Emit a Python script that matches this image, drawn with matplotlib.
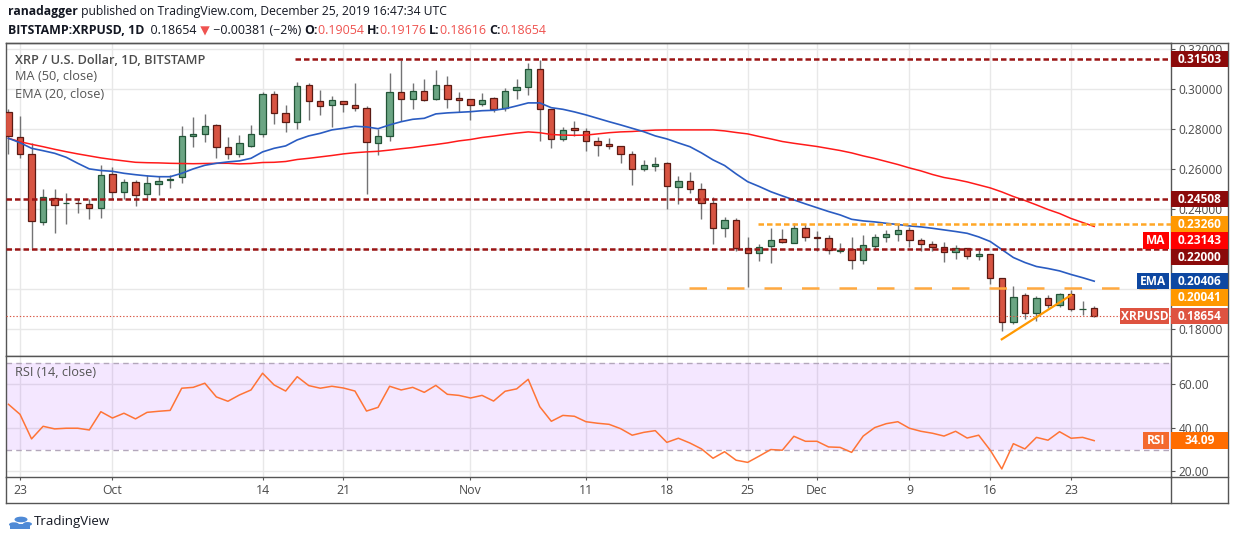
import matplotlib
matplotlib.use('Agg')
import matplotlib.pyplot as plt
from matplotlib.patches import Rectangle, Circle
from matplotlib.lines import Line2D
import numpy as np
import pandas as pd

FONT = ['Open Sans', 'DejaVu Sans']
plt.rcParams['font.family'] = FONT

# ---------------- data ----------------
dates = pd.date_range('2019-09-22', '2019-12-25', freq='D')

opens = [0.2888, 0.2760, 0.2675, 0.2335, 0.2458, 0.2430, 0.2433, 0.2427, 0.2405, 0.2575,
         0.2485, 0.2535, 0.2478, 0.2525, 0.2545, 0.2560, 0.2765, 0.2775, 0.2820, 0.2710,
         0.2675, 0.2718, 0.2775, 0.2975, 0.2880, 0.2835, 0.3020, 0.2940, 0.2920, 0.2940,
         0.2920, 0.2905, 0.2730, 0.2765, 0.2985, 0.2950, 0.2990, 0.2950, 0.3020, 0.2955,
         0.2950, 0.2925, 0.2955, 0.2905, 0.2995, 0.3010, 0.3100, 0.2900, 0.2750, 0.2805,
         0.2790, 0.2740, 0.2725, 0.2715, 0.2675, 0.2600, 0.2615, 0.2630, 0.2510, 0.2540,
         0.2500, 0.2430, 0.2305, 0.2345, 0.2205, 0.2180, 0.2215, 0.2250, 0.2230, 0.2305,
         0.2260, 0.2255, 0.2193, 0.2200, 0.2145, 0.2215, 0.2260, 0.2275, 0.2295, 0.2245,
         0.2225, 0.2210, 0.2185, 0.2205, 0.2165, 0.2175, 0.2055, 0.1835, 0.1970, 0.1880,
         0.1955, 0.1920, 0.1975, 0.1900, 0.19054]
highs = [0.2900, 0.2867, 0.2730, 0.2500, 0.2500, 0.2480, 0.2452, 0.2452, 0.2620, 0.2610,
         0.2550, 0.2545, 0.2570, 0.2565, 0.2570, 0.2815, 0.2860, 0.2875, 0.2825, 0.2760,
         0.2770, 0.2820, 0.2985, 0.2990, 0.2920, 0.3035, 0.3030, 0.2995, 0.2965, 0.2942,
         0.3030, 0.2915, 0.2800, 0.3080, 0.3145, 0.3030, 0.3050, 0.3095, 0.3065, 0.2985,
         0.2952, 0.2980, 0.2960, 0.3005, 0.3050, 0.3130, 0.3145, 0.2902, 0.2810, 0.2840,
         0.2805, 0.2760, 0.2755, 0.2717, 0.2690, 0.2645, 0.2660, 0.2635, 0.2565, 0.2585,
         0.2530, 0.2460, 0.2360, 0.2355, 0.2260, 0.2225, 0.2305, 0.2300, 0.2330, 0.2325,
         0.2290, 0.2270, 0.2230, 0.2260, 0.2270, 0.2275, 0.2295, 0.2325, 0.2313, 0.2255,
         0.2240, 0.2235, 0.2220, 0.2207, 0.2195, 0.2177, 0.2057, 0.2015, 0.1980, 0.1965,
         0.1970, 0.1980, 0.1995, 0.1940, 0.19176]
lows = [0.2675, 0.2658, 0.2205, 0.2320, 0.2283, 0.2328, 0.2383, 0.2350, 0.2355, 0.2450,
        0.2450, 0.2418, 0.2447, 0.2470, 0.2508, 0.2533, 0.2710, 0.2735, 0.2655, 0.2650,
        0.2660, 0.2713, 0.2760, 0.2825, 0.2785, 0.2800, 0.2845, 0.2870, 0.2810, 0.2885,
        0.2890, 0.2475, 0.2670, 0.2740, 0.2840, 0.2900, 0.2940, 0.2945, 0.2905, 0.2885,
        0.2845, 0.2915, 0.2885, 0.2890, 0.2950, 0.2970, 0.2740, 0.2705, 0.2740, 0.2765,
        0.2690, 0.2665, 0.2700, 0.2630, 0.2520, 0.2590, 0.2590, 0.2400, 0.2425, 0.2480,
        0.2350, 0.2225, 0.2260, 0.2190, 0.2010, 0.2140, 0.2130, 0.2230, 0.2230, 0.2240,
        0.2190, 0.2175, 0.2180, 0.2100, 0.2125, 0.2195, 0.2235, 0.2240, 0.2213, 0.2190,
        0.2190, 0.2135, 0.2150, 0.2150, 0.2145, 0.2025, 0.1790, 0.1825, 0.1850, 0.1840,
        0.1905, 0.1910, 0.1890, 0.1870, 0.18616]
closes = [0.2766, 0.2675, 0.2340, 0.2463, 0.2420, 0.2433, 0.2430, 0.2405, 0.2570, 0.2487,
          0.2535, 0.2470, 0.2530, 0.2540, 0.2552, 0.2765, 0.2775, 0.2815, 0.2710, 0.2675,
          0.2730, 0.2775, 0.2975, 0.2880, 0.2835, 0.3015, 0.2940, 0.2915, 0.2945, 0.2925,
          0.2905, 0.2735, 0.2765, 0.2985, 0.2950, 0.2990, 0.2945, 0.3020, 0.2950, 0.2945,
          0.2920, 0.2945, 0.2900, 0.2990, 0.3010, 0.3100, 0.2900, 0.2750, 0.2795, 0.2795,
          0.2740, 0.2720, 0.2715, 0.2675, 0.2600, 0.2620, 0.2625, 0.2515, 0.2540, 0.2500,
          0.2430, 0.2305, 0.2345, 0.2205, 0.2180, 0.2210, 0.2245, 0.2235, 0.2305, 0.2260,
          0.2255, 0.2195, 0.2195, 0.2145, 0.2220, 0.2260, 0.2275, 0.2295, 0.2245, 0.2225,
          0.2210, 0.2185, 0.2205, 0.2165, 0.2175, 0.2055, 0.1835, 0.1960, 0.1880, 0.1955,
          0.1920, 0.1975, 0.1900, 0.19035, 0.18654]

ma50 = [0.2755, 0.2738, 0.2725, 0.2713, 0.2700, 0.2688, 0.2677, 0.2667, 0.2657, 0.2649,
        0.2642, 0.2635, 0.2633, 0.2632, 0.2630, 0.2629, 0.2628, 0.2629, 0.2630, 0.2630,
        0.2627, 0.2629, 0.2634, 0.2635, 0.2639, 0.2649, 0.2655, 0.2662, 0.2669, 0.2677,
        0.2683, 0.2687, 0.2690, 0.2696, 0.2703, 0.2709, 0.2717, 0.2724, 0.2732, 0.2742,
        0.2749, 0.2759, 0.2766, 0.2774, 0.2781, 0.2787, 0.2783, 0.2774, 0.2771, 0.2770,
        0.2771, 0.2777, 0.2783, 0.2787, 0.2789, 0.2793, 0.2796, 0.2797, 0.2797, 0.2797,
        0.2797, 0.2797, 0.2792, 0.2784, 0.2777, 0.2764, 0.2752, 0.2739, 0.2730, 0.2722,
        0.2714, 0.2704, 0.2694, 0.2682, 0.2667, 0.2654, 0.2639, 0.2624, 0.2607, 0.2592,
        0.2574, 0.2559, 0.2549, 0.2537, 0.2522, 0.2507, 0.2487, 0.2464, 0.2444, 0.2422,
        0.2399, 0.2379, 0.2354, 0.2334, 0.23143]
ema20 = [0.2755, 0.2733, 0.2705, 0.2693, 0.2680, 0.2660, 0.2630, 0.2602, 0.2594, 0.2590,
         0.2580, 0.2573, 0.2567, 0.2563, 0.2563, 0.2580, 0.2602, 0.2620, 0.2630, 0.2637,
         0.2642, 0.2655, 0.2687, 0.2705, 0.2717, 0.2747, 0.2767, 0.2780, 0.2797, 0.2805,
         0.2815, 0.2812, 0.2803, 0.2822, 0.2838, 0.2850, 0.2855, 0.2877, 0.2882, 0.2885,
         0.2888, 0.2893, 0.2895, 0.2903, 0.2917, 0.2932, 0.2932, 0.2908, 0.2900, 0.2887,
         0.2872, 0.2855, 0.2838, 0.2822, 0.2805, 0.2788, 0.2767, 0.2752, 0.2732, 0.2713,
         0.2682, 0.2647, 0.2619, 0.2577, 0.2538, 0.2514, 0.2488, 0.2467, 0.2447, 0.2427,
         0.2408, 0.2389, 0.2372, 0.2350, 0.2342, 0.2337, 0.2330, 0.2324, 0.2317, 0.2312,
         0.2305, 0.2297, 0.2289, 0.2280, 0.2262, 0.2239, 0.2199, 0.2159, 0.2134, 0.2114,
         0.2104, 0.2092, 0.2074, 0.2058, 0.20406]
rsi14 = [50.8, 46.2, 34.9, 40.7, 39.5, 39.8, 39.8, 39.0, 47.4, 44.5,
         46.7, 44.1, 47.1, 47.6, 48.0, 58.2, 58.6, 60.5, 54.2, 52.2,
         55.1, 57.4, 65.1, 59.7, 56.9, 63.5, 59.4, 58.2, 59.1, 58.3,
         56.9, 47.7, 49.4, 59.1, 57.4, 58.6, 56.3, 59.5, 55.4, 54.9,
         53.7, 54.9, 52.3, 56.8, 57.9, 62.3, 49.7, 43.0, 45.7, 45.3,
         42.8, 42.1, 41.6, 39.6, 36.6, 37.9, 38.7, 33.3, 35.2, 33.0,
         30.3, 26.0, 29.0, 25.1, 24.1, 27.0, 30.0, 29.7, 36.1, 33.8,
         33.8, 31.2, 31.0, 28.7, 36.2, 40.1, 41.9, 42.8, 39.8, 38.4,
         37.5, 36.2, 38.4, 35.3, 36.6, 29.7, 21.1, 32.7, 30.3, 35.6,
         34.3, 38.2, 35.2, 35.6, 34.09]

tick_dates = ['2019-09-23', '2019-10-01', '2019-10-14', '2019-10-21', '2019-11-01', '2019-11-11',
              '2019-11-18', '2019-11-25', '2019-12-01', '2019-12-09', '2019-12-16', '2019-12-23']
tick_labels = ['23', 'Oct', '14', '21', 'Nov', '11', '18', '25', 'Dec', '9', '16', '23']
price_ticks = [0.18, 0.20, 0.22, 0.24, 0.26, 0.28, 0.30, 0.32]
hidden_price_labels = [0.20, 0.22]   # covered by the price tags in the reference
rsi_ticks = [20, 40, 60]

# user drawings
red_levels = [0.31503, 0.24508, 0.22000]
red_level_start = ['2019-10-16 20:00', None, None]
orange_dotted_level = 0.23260
orange_dotted_start = '2019-11-25 22:00'
orange_dashed_level = 0.20041
orange_dashed_start = '2019-11-19 22:00'
trend_dates = ['2019-12-17', '2019-12-23']
trend_prices = [0.1750, 0.1971]
last_price = 0.18654

# ---------------- figure ----------------
W, H = 1234, 540
fig = plt.figure(figsize=(W / 100, H / 100), dpi=100)
fig.patch.set_facecolor('white')

LEFT, RIGHT, TOP, MID, BOT, AXB, OUTR = 6.3, 1171, 43, 355.5, 476.7, 502.7, 1228


def fbox(x0, y0, x1, y1):
    return [x0 / W, 1 - y1 / H, (x1 - x0) / W, (y1 - y0) / H]


ax = fig.add_axes(fbox(LEFT, TOP, RIGHT, MID))
ax2 = fig.add_axes(fbox(LEFT, MID, RIGHT, BOT), sharex=ax)

x = np.arange(len(dates))
t0 = dates[0]


def dpos(s):
    return (pd.Timestamp(s) - t0) / pd.Timedelta(days=1)


xmin, xmax = -0.186, 100.65
ax.set_xlim(xmin, xmax)
ax.set_ylim(0.16690, 0.32315)
ax2.set_ylim(17.52, 73.24)

GRID = '#e8e8e8'
tick_pos = [dpos(s) for s in tick_dates]
for a in (ax, ax2):
    a.set_facecolor('white')
    for tp in tick_pos:
        a.axvline(tp, color=GRID, lw=1, zorder=0)
    for s in a.spines.values():
        s.set_color('#555555')
        s.set_linewidth(1)
for p in price_ticks:
    ax.axhline(p, color=GRID, lw=1, zorder=0)
for r in rsi_ticks:
    ax2.axhline(r, color=GRID, lw=1, zorder=0)

# candles
UP_FILL, UP_EDGE = '#6ba583', '#225437'
DN_FILL, DN_EDGE = '#d75442', '#5b1a13'
o = np.array(opens); h = np.array(highs); l = np.array(lows); c = np.array(closes)
up = c >= o
ax.vlines(x, l, h, color='#737375', lw=1, zorder=2)
ax.bar(x[up], (c - o)[up], bottom=o[up], width=0.55, color=UP_FILL, edgecolor=UP_EDGE,
       linewidth=0.9, zorder=3)
ax.bar(x[~up], (o - c)[~up], bottom=c[~up], width=0.55, color=DN_FILL, edgecolor=DN_EDGE,
       linewidth=0.9, zorder=3)

ax.plot(x, ma50, color='#ff1a1a', lw=1.1, zorder=4)
ax.plot(x, ema20, color='#2a5cc2', lw=1.2, zorder=4)

# drawings
RED_DASH = '#9a1414'
for lev, st in zip(red_levels, red_level_start):
    x0 = dpos(st) if st else xmin
    ax.plot([x0, xmax], [lev, lev], color=RED_DASH, lw=1.8, ls=(0, (2.2, 1.2)), zorder=5)
ax.plot([dpos(orange_dotted_start), xmax], [orange_dotted_level] * 2, color='#ffa726', lw=1.8,
        ls=(0, (2.2, 1.2)), zorder=5)
ax.plot([dpos(orange_dashed_start), xmax], [orange_dashed_level] * 2, color='#ffa940', lw=1.8,
        ls=(0, (7, 8)), zorder=5)
ax.plot([dpos(d) for d in trend_dates], trend_prices, color='#ff9800', lw=1.6, zorder=6)
ax.axhline(last_price, color='#d9533f', lw=0.8, ls=(0, (1.2, 1.8)), zorder=5)

# RSI pane
ax2.axhspan(30, 70, color='#9b1dff', alpha=0.105, lw=0, zorder=1)
ax2.axhline(70, color='#b3a7bb', lw=1, ls=(0, (4, 3)), zorder=2)
ax2.axhline(30, color='#b3a7bb', lw=1, ls=(0, (4, 3)), zorder=2)
ax2.plot(x, rsi14, color='#ff7436', lw=1.1, zorder=3)

# axes ticks
TXT = '#4a4a4a'
ax.yaxis.tick_right()
ax.set_yticks(price_ticks)
ax.set_yticklabels(['' if any(abs(p - q) < 1e-9 for q in hidden_price_labels) else f'{p:.5f}'
                    for p in price_ticks])
ax.tick_params(axis='y', direction='out', length=3, width=0.8, colors='#555555',
               labelcolor=TXT, labelsize=8.6, pad=2.5)
ax.tick_params(axis='x', length=0, labelbottom=False)
ax2.yaxis.tick_right()
ax2.set_yticks(rsi_ticks)
ax2.set_yticklabels([f'{r:.2f}' for r in rsi_ticks])
ax2.tick_params(axis='y', direction='out', length=3, width=0.8, colors='#555555',
                labelcolor=TXT, labelsize=8.6, pad=2.5)
ax2.set_xticks(tick_pos)
ax2.set_xticklabels(tick_labels)
ax2.tick_params(axis='x', direction='out', length=2.5, width=0.8, colors='#555555',
                labelcolor=TXT, labelsize=8.8, pad=3)


# frame lines outside axes
def fline(x0, y0, x1, y1):
    fig.add_artist(Line2D([x0 / W, x1 / W], [1 - y0 / H, 1 - y1 / H], color='#555555',
                          lw=1, transform=fig.transFigure, zorder=10))


fline(LEFT, TOP, OUTR, TOP)
fline(RIGHT, MID, OUTR, MID)
fline(RIGHT, BOT, OUTR, BOT)
fline(LEFT, AXB, OUTR, AXB)
fline(OUTR, TOP, OUTR, AXB)
fline(LEFT, BOT, LEFT, AXB)
fline(RIGHT, BOT, RIGHT, AXB)

# legends inside panes
fig.text(15 / W, 1 - 60 / H, 'XRP / U.S. Dollar, 1D, BITSTAMP', fontsize=9.2, fontweight='semibold',
         color='#4c4c4c', va='center', ha='left')
fig.text(15 / W, 1 - 77 / H, 'MA (50, close)', fontsize=9.2, color='#555555', va='center')
fig.text(15 / W, 1 - 94 / H, 'EMA (20, close)', fontsize=9.2, color='#555555', va='center')
fig.text(15 / W, 1 - 373 / H, 'RSI (14, close)', fontsize=9.2, color='#555555', va='center')

# price tags on the right axis (stacked like TradingView)
TAG_H = 16.5


def ypix(a, v):
    return H - a.transData.transform((0, v))[1]


def box(x0, x1, yc, color):
    fig.add_artist(Rectangle((x0 / W, 1 - (yc + TAG_H / 2) / H), (x1 - x0) / W, TAG_H / H,
                             transform=fig.transFigure, fc=color, ec='none', zorder=20))


def tag(yc, text, color, side=None, side_w=0, side_color=None):
    box(RIGHT, OUTR, yc, color)
    fig.text((RIGHT + OUTR) / 2 / W, 1 - yc / H, text, color='white', fontsize=8.6,
             fontweight='bold', ha='center', va='center', zorder=21)
    if side:
        box(RIGHT - 2 - side_w, RIGHT - 2, yc, side_color or color)
        fig.text((RIGHT - 2 - side_w / 2) / W, 1 - yc / H, side, color='white', fontsize=8.6,
                 fontweight='bold', ha='center', va='center', zorder=21)


tags = [
    (red_levels[0], '#8b0a0a', None, 0, None),
    (red_levels[1], '#8b0a0a', None, 0, None),
    (orange_dotted_level, '#ff9800', None, 0, None),
    (ma50[-1], '#ff0000', 'MA', 26, '#ff0000'),
    (red_levels[2], '#8b0a0a', None, 0, None),
    (ema20[-1], '#0d47a1', 'EMA', 32, '#0d47a1'),
    (orange_dashed_level, '#ff9800', None, 0, None),
    (closes[-1], '#de5340', 'XRPUSD', 49, '#de5340'),
]
tags.sort(key=lambda t: -t[0])
prev = -1e9
for v, col, side, sw, scol in tags:
    yc = max(ypix(ax, v), prev + TAG_H)
    prev = yc
    tag(yc, f'{v:.5f}', col, side, sw, scol)

tag(ypix(ax2, rsi14[-1]), f'{rsi14[-1]:.2f}', '#ff6d00', 'RSI', 26, '#f4692e')

# header
renderer = fig.canvas.get_renderer()


def runs(parts, y, size, x0=8):
    xx = x0
    for s, col, wt in parts:
        t = fig.text(xx / W, 1 - y / H, s, color=col, fontsize=size, fontweight=wt,
                     va='center', ha='left', family=FONT)
        bb = t.get_window_extent(renderer)
        xx += bb.width


RED_TXT = '#ef5350'
runs([('ranadagger', '#131722', 'bold'),
      (' published on TradingView.com, December 25, 2019 16:47:34 UTC', '#131722', 'normal')], 12, 8.7)
runs([('BITSTAMP:XRPUSD, 1D', '#131722', 'bold'),
      ('  0.18654', '#131722', 'normal'),
      (' ▼', RED_TXT, 'normal'),
      (' −0.00381 (−2%) ', '#131722', 'normal'),
      ('O:', '#131722', 'bold'), ('0.19054 ', RED_TXT, 'normal'),
      ('H:', '#131722', 'bold'), ('0.19176 ', RED_TXT, 'normal'),
      ('L:', '#131722', 'bold'), ('0.18616 ', RED_TXT, 'normal'),
      ('C:', '#131722', 'bold'), ('0.18654', RED_TXT, 'normal')], 31, 8.9)

# logo
LOGO = '#4f8ad6'
for cx, cy, r in [(14, 524.5, 5), (21, 519.5, 6.5), (27.5, 524, 4.5)]:
    fig.add_artist(Circle((cx / W, 1 - cy / H), r / W, transform=fig.transFigure, fc=LOGO, ec='none'))
fig.add_artist(Rectangle((10 / W, 1 - 529 / H), 20 / W, 5 / H, transform=fig.transFigure, fc=LOGO, ec='none'))
fig.text(34 / W, 1 - 521 / H, 'TradingView', fontsize=9.5, color='#131722', va='center', ha='left')

fig.savefig('out.png', dpi=100)
